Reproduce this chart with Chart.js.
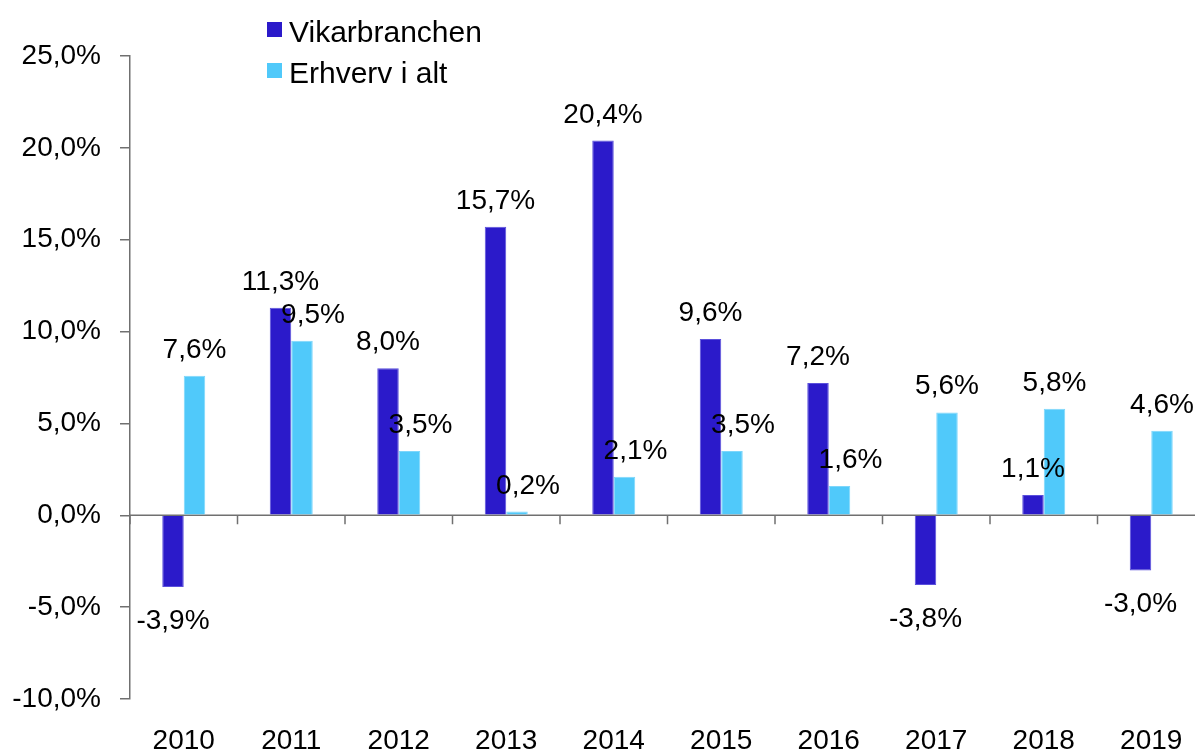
<!DOCTYPE html>
<html>
<head>
<meta charset="utf-8">
<script src="https://cdn.jsdelivr.net/npm/chart.js@4.4.1/dist/chart.umd.min.js"></script>
<style>
  body { margin: 0; overflow: hidden; background: #fff; font-family: 'Liberation Sans', Arial, sans-serif; }
  .wrap { position: absolute; left: 0; top: 0; width: 1210px; height: 760px; }
  .legend-box { position: absolute; width: 15px; height: 15px; }
  .legend-text { position: absolute; font-size: 30px; line-height: 34px; color: #000; white-space: nowrap; }
</style>
</head>
<body>
<div class="wrap"><canvas id="myChart"></canvas></div>
<div id="legend"></div>
<script>
// data
const years = ['2010', '2011', '2012', '2013', '2014', '2015', '2016', '2017', '2018', '2019'];
const vikarbranchen = [-3.9, 11.3, 8.0, 15.7, 20.4, 9.6, 7.2, -3.8, 1.1, -3.0];
const erhvervIAlt = [7.6, 9.5, 3.5, 0.2, 2.1, 3.5, 1.6, 5.6, 5.8, 4.6];
const seriesNames = ['Vikarbranchen', 'Erhverv i alt'];
const yTicks = [-10, -5, 0, 5, 10, 15, 20, 25];

const colors = ['#2b1aca', '#50c9fa'];
const axisColor = '#707070';
const fontFamily = "'Liberation Sans', Arial, sans-serif";

let fmt = v => v.toFixed(1).replace('.', ',') + '%';

// html legend
let legend = document.getElementById('legend');
seriesNames.forEach((name, i) => {
  let top = 15 + i * 40.5;
  legend.innerHTML +=
    `<div class="legend-box" style="left:267px;top:${top + 7}px;background:${colors[i]}"></div>` +
    `<div class="legend-text" style="left:289px;top:${top}px">${name}</div>`;
});

// zero line with tick marks between categories
const zeroLine = {
  id: 'zeroLine',
  beforeDatasetsDraw(chart) {
    let c = chart.ctx;
    let x = chart.scales.x;
    let y0 = chart.scales.y.getPixelForValue(0);
    let area = chart.chartArea;
    let step = (area.right - area.left) / years.length;
    c.save();
    c.strokeStyle = axisColor;
    c.lineWidth = 1.5;
    c.beginPath();
    c.moveTo(area.left, y0);
    c.lineTo(area.right, y0);
    for (let i = 0; i < years.length; i++) {
      let bx = x.getPixelForTick(i) - step / 2;
      c.moveTo(bx, y0);
      c.lineTo(bx, y0 + 9);
    }
    c.stroke();
    c.restore();
  }
};

// value labels over / under bars
const valueLabels = {
  id: 'valueLabels',
  afterDatasetsDraw(chart) {
    let c = chart.ctx;
    c.save();
    c.font = '28px ' + fontFamily;
    c.fillStyle = '#000';
    c.textAlign = 'center';
    c.textBaseline = 'alphabetic';
    chart.data.datasets.forEach((ds, di) => {
      chart.getDatasetMeta(di).data.forEach((bar, i) => {
        let v = ds.data[i];
        let x = bar.x;
        // nudge the light label aside when the dark bar next to it is taller
        if (di === 1 && vikarbranchen[i] > erhvervIAlt[i]) x += 11;
        let y = v >= 0 ? bar.y - 18 : bar.y + 42;
        c.fillText(fmt(v), x, y);
      });
    });
    c.restore();
  }
};

let ctx = document.getElementById('myChart').getContext('2d');
let chart = new Chart(ctx, {
  type: 'bar',
  data: {
    labels: years,
    datasets: [
      {
        label: seriesNames[0],
        data: vikarbranchen,
        backgroundColor: colors[0],
        borderColor: '#5b50dc',
        borderWidth: 1
      },
      {
        label: seriesNames[1],
        data: erhvervIAlt,
        backgroundColor: colors[1],
        borderColor: '#7dd6fb',
        borderWidth: 1
      }
    ]
  },
  options: {
    responsive: true,
    maintainAspectRatio: false,
    animation: false,
    events: [],
    layout: { padding: { top: 56, left: 0, right: 5, bottom: 0 } },
    datasets: { bar: { categoryPercentage: 0.4, barPercentage: 1.0 } },
    plugins: {
      legend: { display: false },
      tooltip: { enabled: false }
    },
    scales: {
      x: {
        offset: true,
        grid: { display: false },
        border: { display: false },
        ticks: {
          color: '#000',
          padding: 17,
          maxRotation: 0,
          font: { family: fontFamily, size: 28 }
        },
        afterFit: s => { s.height = 61; }
      },
      y: {
        min: -10,
        max: 25,
        afterBuildTicks: s => { s.ticks = yTicks.map(v => ({ value: v })); },
        grid: {
          drawOnChartArea: false,
          drawTicks: true,
          tickLength: 10,
          color: axisColor,
          lineWidth: 1.5
        },
        border: { display: true, color: axisColor, width: 1.5 },
        ticks: {
          color: '#000',
          padding: 19,
          font: { family: fontFamily, size: 28 },
          callback: v => fmt(v)
        },
        afterFit: s => { s.width = 130; }
      }
    }
  },
  plugins: [zeroLine, valueLabels]
});
</script>
</body>
</html>
